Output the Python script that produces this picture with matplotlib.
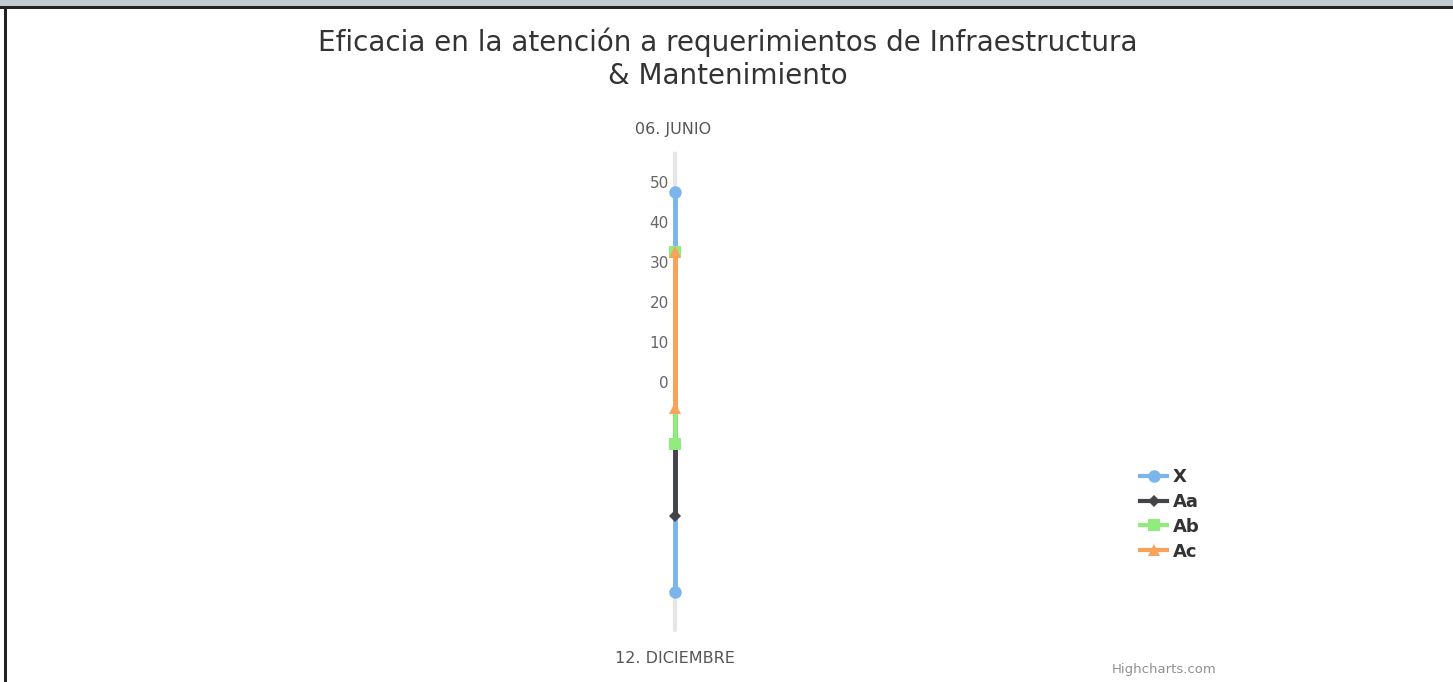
import numpy as np
import matplotlib
matplotlib.use("Agg")
import matplotlib.pyplot as plt
from matplotlib.patches import Rectangle
from matplotlib.lines import Line2D

# ---- data ----
categories = ["06. JUNIO", "12. DICIEMBRE"]
series_names = ["X", "Aa", "Ab", "Ac"]
x_vals = [50, 50]
aa_vals = [35, 31]
ab_vals = [35, 13]
ac_vals = [35, 4]
radial_ticks = [0, 10, 20, 30, 40, 50]
title = "Eficacia en la atención a requerimientos de Infraestructura\n& Mantenimiento"
credit = "Highcharts.com"

colors = ["#7cb5ec", "#434348", "#90ed7d", "#f7a35c"]
markers = ["o", "D", "s", "^"]
msizes = [9, 6, 9, 9]

W, H = 1453, 682
fig = plt.figure(figsize=(W / 100, H / 100), dpi=100)
fig.patch.set_facecolor("white")

# frame decorations (screenshot border)
fig.patches.append(Rectangle((0, 1 - 6 / H), 1, 6 / H, transform=fig.transFigure,
                             facecolor="#c0cad0", edgecolor="none", zorder=0))
fig.patches.append(Rectangle((0, 1 - 9 / H), 1, 3 / H, transform=fig.transFigure,
                             facecolor="#222222", edgecolor="none", zorder=0))
fig.patches.append(Rectangle((4 / W, 0), 3 / W, 1 - 6 / H, transform=fig.transFigure,
                             facecolor="#222222", edgecolor="none", zorder=0))

cx, cy, R = 675, 391.7, 240
ax = fig.add_axes([(cx - R) / W, (H - cy - R) / H, 2 * R / W, 2 * R / H], projection="polar")
ax.set_theta_zero_location("N")
ax.set_theta_direction(-1)
ax.set_ylim(0, 60)
ax.set_facecolor("none")
ax.spines["polar"].set_visible(False)

theta = np.arange(len(categories)) * 2 * np.pi / len(categories)
ax.set_xticks(theta)
ax.set_xticklabels([])
ax.set_yticks(radial_ticks)
ax.set_yticklabels([])
ax.yaxis.grid(False)
ax.xaxis.grid(True, color="#e6e6e6", linewidth=3)
ax.tick_params(axis="both", length=0)

all_vals = [x_vals, aa_vals, ab_vals, ac_vals]
for i, (name, vals) in enumerate(zip(series_names, all_vals)):
    ax.plot(theta, vals, color=colors[i], linewidth=3.5, marker=markers[i],
            markersize=msizes[i], markeredgewidth=0, label=name, zorder=3 + i,
            clip_on=False)

# radial labels along top radius
for r in radial_ticks:
    ax.annotate(str(r), xy=(0, r), xytext=(-6, 8), textcoords="offset pixels",
                ha="right", va="center", fontsize=11, color="#666666",
                family="DejaVu Sans")

# category labels
ax.annotate(categories[0], xy=(0, 60), xytext=(-2, 22), textcoords="offset pixels",
            ha="center", va="center", fontsize=11.5, color="#555555")
ax.annotate(categories[1], xy=(np.pi, 60), xytext=(0, -27), textcoords="offset pixels",
            ha="center", va="center", fontsize=11.5, color="#555555")

fig.text(728 / W, 1 - 59 / H, title, ha="center", va="center", fontsize=20,
         color="#333333", linespacing=1.25)

handles = [Line2D([0], [0], color=colors[i], lw=3, marker=markers[i],
                  markersize=msizes[i], markeredgewidth=0) for i in range(4)]
leg = fig.legend(handles, series_names, loc="upper left",
                 bbox_to_anchor=(1140 / W, 1 - 468 / H), frameon=False,
                 prop={"weight": "bold", "size": 13}, handlelength=1.5,
                 handletextpad=0.3, labelspacing=0.38, borderpad=0,
                 borderaxespad=0)
for t in leg.get_texts():
    t.set_color("#333333")

fig.text(1164 / W, 1 - 669 / H, credit, ha="center", va="center", fontsize=9.5,
         color="#909090")

fig.savefig("out.png", dpi=100)
